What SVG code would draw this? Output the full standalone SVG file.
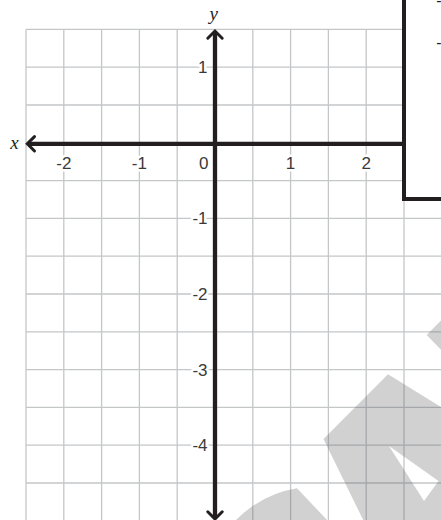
<svg xmlns="http://www.w3.org/2000/svg" width="441" height="520" viewBox="0 0 441 520">
<style>
.grid line{stroke:#c4c6c8;stroke-width:1.3}
.ax{stroke:#231f20;stroke-width:4.3;fill:none;stroke-linecap:butt}
.ah{stroke:#231f20;stroke-width:3;fill:none;stroke-linecap:round;stroke-linejoin:miter}
.tk{font-family:"Liberation Sans",Arial,sans-serif;font-size:17px;fill:#3a3a3a;paint-order:stroke;stroke:#fff;stroke-width:5px;stroke-linejoin:round}
.tx{text-anchor:middle}
.ty{text-anchor:end}
.var{font-family:"Liberation Serif","Times New Roman",serif;font-style:italic;font-size:19px;fill:#231f20;text-anchor:middle}
.wm{fill:#58595b;fill-opacity:0.275}
</style>
<rect x="0" y="0" width="441" height="520" fill="#fff"/>
<g id="grid" class="grid">
<line x1="26" y1="29.4" x2="26" y2="520"/>
<line x1="63.8" y1="29.4" x2="63.8" y2="520"/>
<line x1="101.6" y1="29.4" x2="101.6" y2="520"/>
<line x1="139.4" y1="29.4" x2="139.4" y2="520"/>
<line x1="177.2" y1="29.4" x2="177.2" y2="520"/>
<line x1="252.8" y1="29.4" x2="252.8" y2="520"/>
<line x1="290.6" y1="29.4" x2="290.6" y2="520"/>
<line x1="328.4" y1="29.4" x2="328.4" y2="520"/>
<line x1="366.2" y1="29.4" x2="366.2" y2="520"/>
<line x1="404" y1="29.4" x2="404" y2="520"/>
<line x1="26" y1="29.4" x2="441" y2="29.4"/>
<line x1="26" y1="67.2" x2="441" y2="67.2"/>
<line x1="26" y1="105" x2="441" y2="105"/>
<line x1="26" y1="180.6" x2="441" y2="180.6"/>
<line x1="26" y1="218.4" x2="441" y2="218.4"/>
<line x1="26" y1="256.2" x2="441" y2="256.2"/>
<line x1="26" y1="294" x2="441" y2="294"/>
<line x1="26" y1="331.8" x2="441" y2="331.8"/>
<line x1="26" y1="369.6" x2="441" y2="369.6"/>
<line x1="26" y1="407.4" x2="441" y2="407.4"/>
<line x1="26" y1="445.2" x2="441" y2="445.2"/>
<line x1="26" y1="483" x2="441" y2="483"/>
</g>
<g id="watermark">
<polygon class="wm" points="426.7,335 452,309.5 452,361"/>
<path class="wm" fill-rule="evenodd" d="M388,374.3 L460,418.7 L460,540 L373,540 L323.5,439 Z M389,446 L438.5,481 L424,501 Z"/>
<path class="wm" d="M297,488.3 L346,540 L225,540 L236,520 Q262,494 297,488.3 Z"/>
</g>
<g id="box">
<rect x="404" y="-10" width="60" height="209" fill="#fff" stroke="#231f20" stroke-width="4"/>
<text x="436.3" y="6" font-family="Liberation Sans,Arial,sans-serif" font-size="16" fill="#231f20">-</text>
<text x="436.3" y="48" font-family="Liberation Sans,Arial,sans-serif" font-size="16" fill="#231f20">-</text>
</g>
<g id="axes">
<line class="ax" x1="28" y1="143.8" x2="402" y2="143.8"/>
<line class="ax" x1="215" y1="32" x2="215" y2="518"/>
<polyline class="ah" points="34.5,136.6 27.3,143.8 34.5,151"/>
<polyline class="ah" points="207.8,38.2 215,31 222.2,38.2"/>
<polyline class="ah" points="207.8,511.8 215,519 222.2,511.8"/>
</g>
<g id="labels">
<text class="var" x="213.8" y="20">y</text>
<text class="var" x="14.5" y="148.5">x</text>
<text class="tk tx" x="63.8" y="168.5">-2</text>
<text class="tk tx" x="139.4" y="168.5">-1</text>
<text class="tk ty" x="208.5" y="168.5">0</text>
<text class="tk tx" x="290.6" y="168.5">1</text>
<text class="tk tx" x="366.2" y="168.5">2</text>
<text class="tk ty" x="207.5" y="73">1</text>
<text class="tk ty" x="207.5" y="224.4">-1</text>
<text class="tk ty" x="207.5" y="300">-2</text>
<text class="tk ty" x="207.5" y="375.6">-3</text>
<text class="tk ty" x="207.5" y="451.2">-4</text>
</g>
</svg>
